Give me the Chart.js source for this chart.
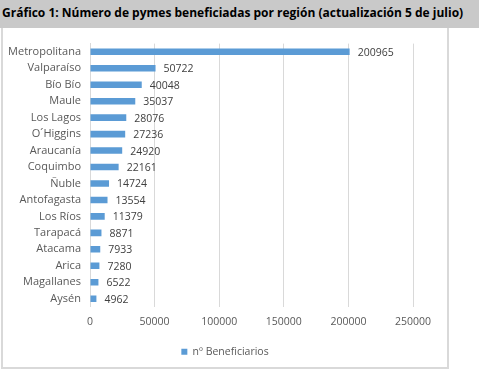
<!DOCTYPE html>
<html>
<head>
<meta charset="utf-8">
<script src="https://cdn.jsdelivr.net/npm/chart.js@4"></script>
<style>
  html, body { margin: 0; padding: 0; background: #ffffff; width: 479px; height: 376px; overflow: hidden; }
  #band { position: absolute; left: 0; top: 0; width: 479px; height: 28px; background: #c9c9c9; }
  #title { position: absolute; left: 2px; top: 4px; font-family: "Open Sans", sans-serif; font-weight: bold; font-size: 12px; color: #000; white-space: nowrap; }
  #box { position: absolute; left: 1px; top: 28px; width: 444px; height: 339px; border: 2px solid #d9d9d9; border-top: none; background: #fff; }
  #wrap { position: absolute; left: 0; top: 0; width: 444px; height: 339px; }
</style>
</head>
<body>
<div id="band"><div id="title">Gráfico 1: Número de pymes beneficiadas por región (actualización 5 de julio)</div></div>
<div id="box"><div id="wrap"><canvas id="c"></canvas></div></div>
<script>
const categories = ["Metropolitana", "Valparaíso", "Bío Bío", "Maule", "Los Lagos", "O´Higgins", "Araucanía", "Coquimbo", "Ñuble", "Antofagasta", "Los Ríos", "Tarapacá", "Atacama", "Arica", "Magallanes", "Aysén"];
const beneficiarios = [200965, 50722, 40048, 35037, 28076, 27236, 24920, 22161, 14724, 13554, 11379, 8871, 7933, 7280, 6522, 4962];
const seriesName = "nº Beneficiarios";
const xTicks = [0, 50000, 100000, 150000, 200000, 250000];

const labelPlugin = {
  id: 'barLabels',
  afterLayout(chart) {
    if (chart.legend) { chart.legend.left += 17; chart.legend.right += 17; }
  },
  afterDatasetsDraw(chart) {
    const ctx = chart.ctx;
    const meta = chart.getDatasetMeta(0);
    ctx.save();
    ctx.font = '10.5px "Open Sans", sans-serif';
    ctx.fillStyle = '#404040';
    ctx.textAlign = 'left';
    ctx.textBaseline = 'middle';
    meta.data.forEach((bar, i) => {
      ctx.fillText(String(beneficiarios[i]), bar.x + 8, bar.y + 1);
    });
    ctx.restore();
  }
};

new Chart(document.getElementById('c'), {
  type: 'bar',
  data: {
    labels: categories,
    datasets: [{
      label: seriesName,
      data: beneficiarios,
      backgroundColor: '#5b9bd5',
      borderWidth: 0,
      categoryPercentage: 0.8,
      barPercentage: 0.5
    }]
  },
  options: {
    indexAxis: 'y',
    responsive: true,
    maintainAspectRatio: false,
    animation: false,
    layout: { padding: { left: 0, right: 34, top: 14, bottom: 0 } },
    scales: {
      x: {
        min: 0, max: 250000,
        afterBuildTicks(s) { s.ticks = xTicks.map(v => ({ value: v })); },
        grid: { color: '#d9d9d9', drawTicks: false, lineWidth: 1 },
        border: { display: false },
        ticks: { color: '#595959', font: { family: '"Open Sans", sans-serif', size: 10.5 }, padding: 9, maxRotation: 0,
                 callback: (v) => String(v) }
      },
      y: {
        afterFit(s) { s.width = 87; },
        grid: { display: false, drawTicks: false },
        border: { display: true, color: '#d9d9d9' },
        ticks: { color: '#595959', font: { family: '"Open Sans", sans-serif', size: 11 }, padding: 9, autoSkip: false }
      }
    },
    plugins: {
      legend: {
        position: 'bottom',
        labels: {
          boxWidth: 6, boxHeight: 6, padding: 9,
          color: '#595959',
          font: { family: '"Open Sans", sans-serif', size: 10.5 }
        }
      },
      tooltip: { enabled: false }
    }
  },
  plugins: [labelPlugin]
});
</script>
</body>
</html>
